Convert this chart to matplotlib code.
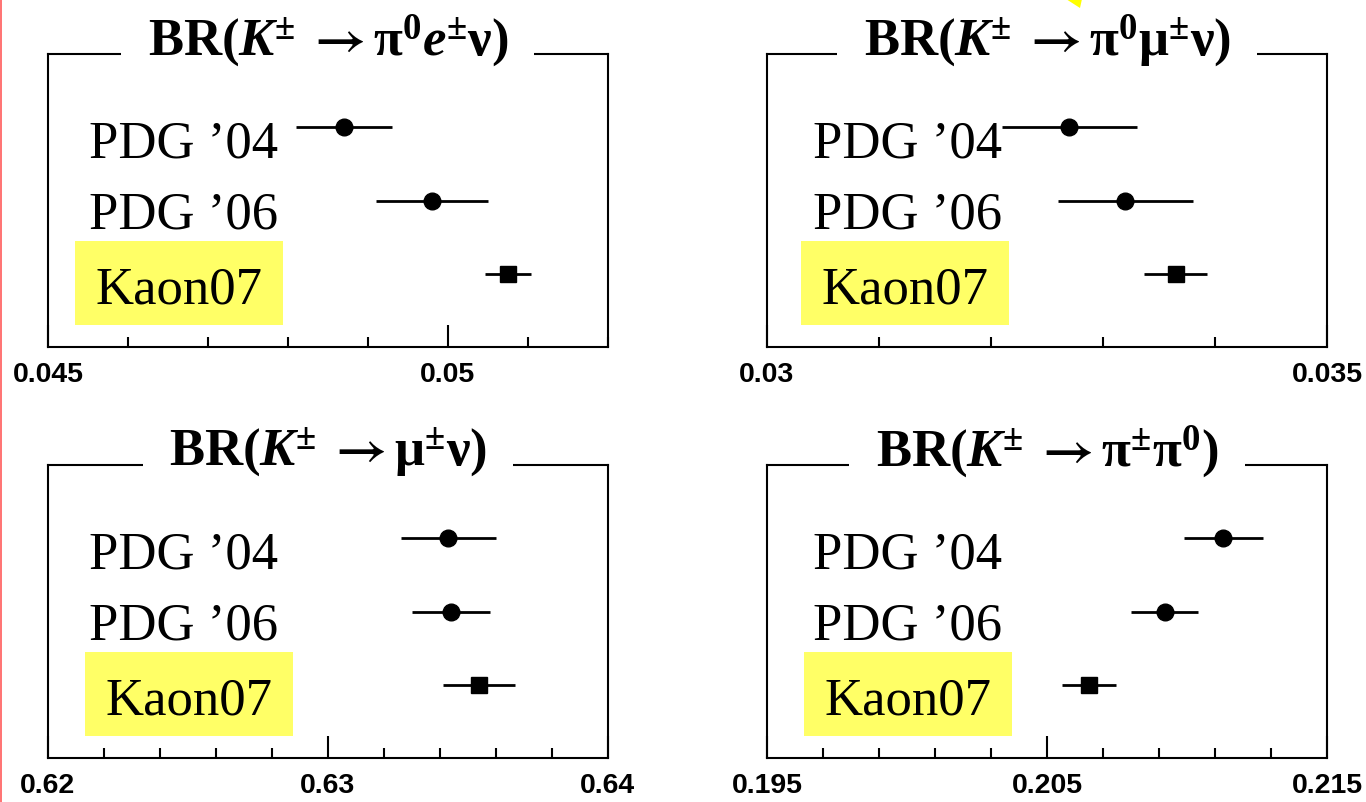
import matplotlib
matplotlib.use("Agg")
import matplotlib.pyplot as plt
from matplotlib.patches import Rectangle, Polygon
from matplotlib.lines import Line2D
from matplotlib.ticker import MultipleLocator, FuncFormatter

plt.rcParams.update({
    "mathtext.fontset": "custom",
    "mathtext.rm": "Liberation Serif:bold",
    "mathtext.bf": "Liberation Serif:bold",
    "mathtext.it": "Liberation Serif:italic",
    "mathtext.bfit": "Liberation Serif:italic:bold",
    "mathtext.sf": "STIXGeneral:bold",   # only used for the long arrow
    "mathtext.fallback": "stix",
})

# --- data -----------------------------------------------------------------
labels = ["PDG \u201904", "PDG \u201906", "Kaon07"]
rows = [3, 2, 1]

ARROW = r"\;\mathsf{\rightarrow}"
titles = [
    r"$\mathbf{BR(}\mathbfit{K}^{\mathbf{\pm}}" + ARROW + r"\mathbf{\pi}^{\mathbf{0}}\mathbfit{e}^{\mathbf{\pm}}\mathbf{\nu)}$",
    r"$\mathbf{BR(}\mathbfit{K}^{\mathbf{\pm}}" + ARROW + r"\mathbf{\pi}^{\mathbf{0}}\mathbf{\mu}^{\mathbf{\pm}}\mathbf{\nu)}$",
    r"$\mathbf{BR(}\mathbfit{K}^{\mathbf{\pm}}" + ARROW + r"\mathbf{\mu}^{\mathbf{\pm}}\mathbf{\nu)}$",
    r"$\mathbf{BR(}\mathbfit{K}^{\mathbf{\pm}}" + ARROW + r"\mathbf{\pi}^{\mathbf{\pm}}\mathbf{\pi}^{\mathbf{0}}\mathbf{)}$",
]

ke3_val = [0.0487, 0.0498, 0.05075]
ke3_err = [0.0006, 0.0007, 0.00029]
kmu3_val = [0.0327, 0.0332, 0.03365]
kmu3_err = [0.0006, 0.0006, 0.00028]
kmu2_val = [0.6343, 0.6344, 0.6354]
kmu2_err = [0.0017, 0.0014, 0.0013]
kpi2_val = [0.2113, 0.2092, 0.2065]
kpi2_err = [0.0014, 0.0012, 0.00098]

xlims = [(0.045, 0.052), (0.030, 0.035), (0.62, 0.64), (0.195, 0.215)]
major_step = [0.005, 0.005, 0.01, 0.01]
minor_step = [0.001, 0.001, 0.002, 0.002]

values = [ke3_val, kmu3_val, kmu2_val, kpi2_val]
errors = [ke3_err, kmu3_err, kmu2_err, kpi2_err]

# --- layout ---------------------------------------------------------------
W, H = 1366, 803
fig = plt.figure(figsize=(W / 100, H / 100), dpi=100)

ax_left = [47.9, 767, 47.9, 767]
ax_top = [55, 55, 466, 466]
ax_w, ax_h = 560, 293
label_x = [0.074, 0.083, 0.074, 0.083]
box_x = [0.048, 0.061, 0.066, 0.066]
box_w = 0.372

serif = "Liberation Serif"

for i in range(4):
    ax = fig.add_axes([ax_left[i] / W, 1 - (ax_top[i] + ax_h) / H, ax_w / W, ax_h / H])
    ax.set_xlim(*xlims[i])
    ax.set_ylim(0, 4)
    ax.set_yticks([])
    for s in ax.spines.values():
        s.set_linewidth(1.5)

    lo = xlims[i][0]
    ax.xaxis.set_major_locator(MultipleLocator(major_step[i], offset=lo))
    ax.xaxis.set_minor_locator(MultipleLocator(minor_step[i], offset=lo))
    ax.xaxis.set_major_formatter(FuncFormatter(lambda v, p: f"{round(v, 6):g}"))
    ax.tick_params(axis="x", which="major", direction="in", length=16, width=1.5,
                   pad=10, labelsize=20.5)
    ax.tick_params(axis="x", which="minor", direction="in", length=7, width=1.5)
    for t in ax.get_xticklabels():
        t.set_fontfamily("Liberation Sans")
        t.set_fontweight("bold")

    # PDG points (circles) and Kaon07 (square)
    for j in range(3):
        ax.errorbar(values[i][j], rows[j], xerr=errors[i][j], fmt="s" if j == 2 else "o",
                    color="black", ms=11.5 if j == 2 else 12, elinewidth=2.0,
                    capsize=0, zorder=4)

    # labels
    ax.text(label_x[i], rows[0] - 0.40, labels[0], transform=ax.get_yaxis_transform(),
            family=serif, fontsize=38, va="baseline", ha="left")
    ax.text(label_x[i], rows[1] - 0.37, labels[1], transform=ax.get_yaxis_transform(),
            family=serif, fontsize=38, va="baseline", ha="left")
    ax.add_patch(Rectangle((box_x[i], 0.30), box_w, 1.15, transform=ax.get_yaxis_transform(),
                           facecolor="#ffff66", edgecolor="none", zorder=1))
    ax.text(box_x[i] + box_w / 2, rows[2] - 0.39, labels[2], transform=ax.get_yaxis_transform(),
            family=serif, fontsize=38, va="baseline", ha="center", zorder=2)

    # title sitting on the top frame line
    ax.text(0.5, 1.0, titles[i], transform=ax.transAxes, ha="center", va="baseline",
            fontsize=38, zorder=5, clip_on=False,
            bbox=dict(boxstyle="square,pad=0.5", facecolor="white", edgecolor="none"))

# slide artifacts: red edge line and yellow arrow tip
fig.add_artist(Line2D([0.6 / W, 0.6 / W], [0, 1], transform=fig.transFigure,
                      color="#ff5a5a", lw=1.2))
fig.add_artist(Polygon([[1066 / W, 1.0], [1082 / W, 1.0], [1080 / W, 1 - 9 / H]],
                       closed=True, transform=fig.transFigure, facecolor="#ffff00",
                       edgecolor="none"))

fig.savefig("out.png", dpi=100)
